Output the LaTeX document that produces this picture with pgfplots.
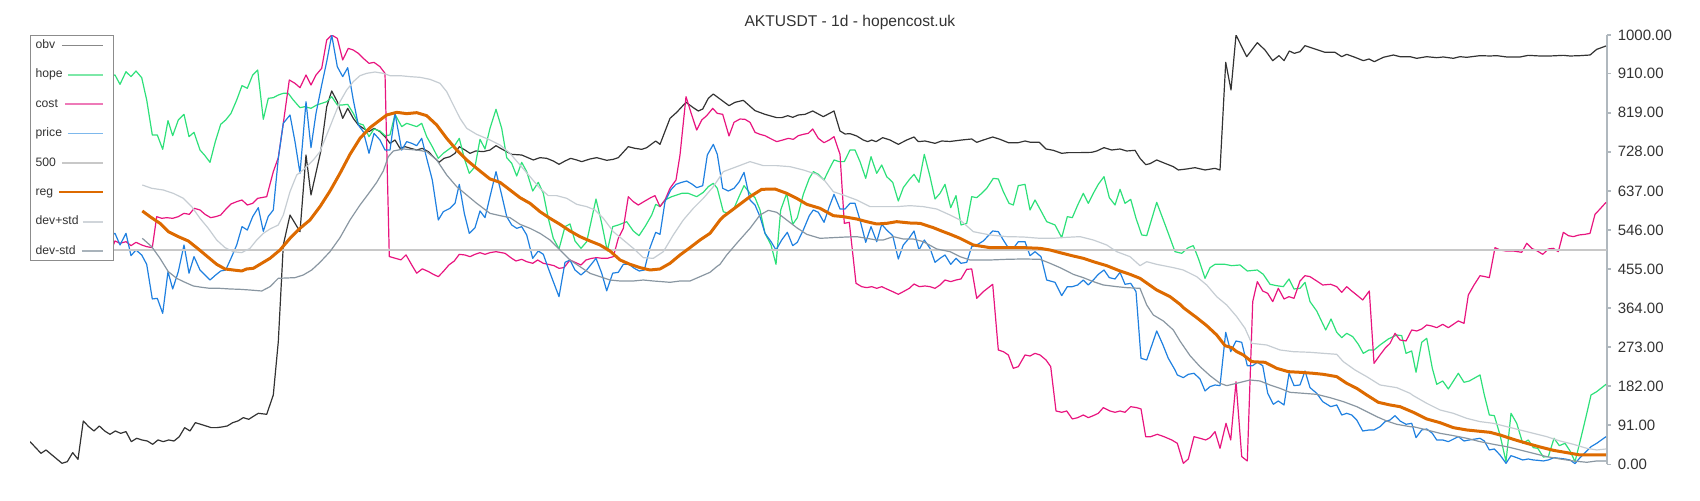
\documentclass[border=0pt]{standalone}
\usepackage{fontspec}
\setmainfont{Liberation Sans}
\usepackage{pgfplots}
\pgfplotsset{compat=1.18}
\definecolor{ctext}{HTML}{333333}
\definecolor{caxis}{HTML}{B0B8BE}
\definecolor{clegend}{HTML}{8C8C8C}
\definecolor{cobv}{HTML}{333333}
\definecolor{chope}{HTML}{2EE07A}
\definecolor{ccost}{HTML}{E8157F}
\definecolor{cprice}{HTML}{1F80E0}
\definecolor{cfive}{HTML}{C8C8C8}
\definecolor{creg}{HTML}{DD6A00}
\definecolor{cdevp}{HTML}{C6CDD3}
\definecolor{cdevm}{HTML}{8996A1}
\definecolor{cobvL}{HTML}{888888}
\definecolor{chopeL}{HTML}{7DE8A8}
\definecolor{ccostL}{HTML}{EE7AB8}
\definecolor{cpriceL}{HTML}{7DB8EC}
\definecolor{cdevpL}{HTML}{D0D5DA}
\definecolor{cdevmL}{HTML}{A9B3BB}
\begin{document}
\begin{tikzpicture}
\path[use as bounding box] (0,0) rectangle (850pt,250pt);
\begin{axis}[
  at={(15pt,17.85pt)}, anchor=south west,
  scale only axis, width=788.35pt, height=214.65pt,
  xmin=30, xmax=1606.7, ymin=0, ymax=1000,
  axis x line=none, axis y line*=right,
  ytick={0,91,182,273,364,455,546,637,728,819,910,1000},
  scaled y ticks=false,
  yticklabel style={font=\fontsize{7.5}{9}\selectfont, text=ctext,
    /pgf/number format/fixed, /pgf/number format/fixed zerofill,
    /pgf/number format/precision=2, /pgf/number format/1000 sep={},
    /pgf/number format/assume math mode=true},
  tick align=outside, major tick length=2pt,
  y axis line style={draw=caxis, line width=0.8pt},
  ytick style={draw=caxis, line width=0.8pt},
  title={AKTUSDT - 1d - hopencost.uk},
  title style={at={(0.52,1)}, anchor=base, yshift=-1.5pt, font=\fontsize{7.8}{9}\selectfont, text=ctext},
  legend style={at={(0,1)}, anchor=north west, draw=clegend, line width=0.6pt, fill=white,
    font=\fontsize{6.1}{7}\selectfont, text=ctext, inner xsep=1pt, inner ysep=1pt,
    row sep=7pt, column sep=1pt,
    nodes={inner xsep=1.5pt, inner ysep=1pt, text height=4.4pt, text depth=1.3pt}},
  legend plot pos=right,
  legend cell align=left,
  every axis plot/.append style={line join=round, mark=none},
]
\addlegendimage{legend image code/.code={\draw[overlay,cobvL,line width=0.8pt] (-11.3pt,0pt) -- (0pt,0pt); \draw[cobvL,line width=0.8pt] (0pt,0pt) -- (9pt,0pt); \path (13pt,0pt);}}\addlegendentry{obv}
\addlegendimage{legend image code/.code={\draw[overlay,chopeL,line width=0.8pt] (-8.3pt,0pt) -- (0pt,0pt); \draw[chopeL,line width=0.8pt] (0pt,0pt) -- (9pt,0pt); \path (13pt,0pt);}}\addlegendentry{hope}
\addlegendimage{legend image code/.code={\draw[overlay,ccostL,line width=0.8pt] (-9.7pt,0pt) -- (0pt,0pt); \draw[ccostL,line width=0.8pt] (0pt,0pt) -- (9pt,0pt); \path (13pt,0pt);}}\addlegendentry{cost}
\addlegendimage{legend image code/.code={\draw[overlay,cpriceL,line width=0.8pt] (-8.3pt,0pt) -- (0pt,0pt); \draw[cpriceL,line width=0.8pt] (0pt,0pt) -- (9pt,0pt); \path (13pt,0pt);}}\addlegendentry{price}
\addlegendimage{legend image code/.code={\draw[overlay,cfive,line width=0.8pt] (-11.3pt,0pt) -- (0pt,0pt); \draw[cfive,line width=0.8pt] (0pt,0pt) -- (9pt,0pt); \path (13pt,0pt);}}\addlegendentry{500}
\addlegendimage{legend image code/.code={\draw[overlay,creg,line width=0.9pt] (-12.7pt,0pt) -- (0pt,0pt); \draw[creg,line width=0.9pt] (0pt,0pt) -- (9pt,0pt); \path (13pt,0pt);}}\addlegendentry{reg}
\addlegendimage{legend image code/.code={\draw[overlay,cdevpL,line width=0.8pt] (-0.8pt,0pt) -- (0pt,0pt); \draw[cdevpL,line width=0.8pt] (0pt,0pt) -- (9pt,0pt); \path (13pt,0pt);}}\addlegendentry{dev+std}
\addlegendimage{legend image code/.code={\draw[overlay,cdevmL,line width=0.8pt] (-1.3pt,0pt) -- (0pt,0pt); \draw[cdevmL,line width=0.8pt] (0pt,0pt) -- (9pt,0pt); \path (13pt,0pt);}}\addlegendentry{dev-std}

% obv
\addplot[cobv, line width=0.6pt, forget plot] coordinates {
(30,52.8) (41,25.6) (46,33.4) (62,2.3) (67.3,6.2) (72.7,27.2) (78,11.6) (83.3,100.9) (88.7,87.7) (94,77.6) (99.3,89.3) (104.7,77.6) (110,69.9) (115.3,77.6) (120.7,72.2) (126,76.1) (131.3,52.8) (136.7,60.6) (142,56.7) (147.3,54.3) (152.7,46.6) (158,56.7) (163.3,52.8) (168.7,56.7) (174,54.3) (179.3,64.4) (184.7,85.4) (190,77.6) (195.3,97) (200.7,93.2) (206,89.3) (211.3,85.4) (216.7,85.4) (222,87) (227.3,89.3) (232.7,97) (238,101) (243.3,108.7) (248.7,104.8) (254,112.6) (258.3,118.8) (266.7,116.5) (273.3,161.5) (278.3,285.7) (283.3,510.9) (290,580.7) (300,541.9) (306,720.5) (311,627.3) (320.7,728.3) (326.7,833.1) (331.7,869.6) (337.3,844.7) (342.7,805.9) (347.7,829.2) (353.3,805.9) (358.3,790.4) (363.3,782.6) (369,774.8) (374,782.6) (380,774.8) (385,763.2) (390,747.7) (395,755.4) (400,736) (405,739.9) (410.7,736) (416.7,732.1) (422.3,736) (428.3,728.3) (433.3,716.6) (439,703.4) (444,712.7) (450,716.6) (455,724.4) (459.3,739.9) (465,732.1) (470,724.4) (475.7,729.8) (483.3,728.3) (490,732.1) (496,742.2) (501.7,734.5) (511.7,722) (521.7,720.5) (533.3,708.9) (540,714.3) (546.7,712.7) (553.3,706.5) (559,698.8) (565,706.5) (570.7,712.7) (576.7,708.9) (581.7,705) (590,711.2) (596.7,714.3) (606.7,708.1) (613.3,710.4) (618.3,714.3) (628.3,739.9) (635,736) (641.7,733.7) (646.7,737.6) (655.7,753.1) (660,745.3) (670,805.9) (676.7,819.9) (686,843.2) (693.3,830.7) (698.3,823) (702.7,827.6) (708.3,852.5) (713.3,862.6) (720,850.9) (729,835.4) (735,843.2) (743.3,847.8) (755,823.8) (765,815.2) (776.7,807.5) (781.7,807.5) (787.7,812.1) (792.7,808.2) (798.3,813.7) (805,815.2) (812.7,823) (823.3,809.8) (834,823) (840,776.4) (845,769.4) (850,770.2) (856.7,764.8) (863.3,755.4) (867.7,751.6) (871.7,755.4) (876,751.6) (882.7,760.9) (890,755.4) (898.3,745.3) (906.7,755.4) (914,762.4) (918.3,751.6) (925,753.1) (935,747.7) (941.7,753.1) (950,752) (961.7,755.4) (971.7,757.8) (976.7,750) (983.3,755.4) (992.7,762.4) (1000,757) (1008.3,749.2) (1018.3,749.2) (1025,753.1) (1030.7,750) (1039.3,750) (1046,734.5) (1053.3,731.4) (1061.7,724.4) (1068.3,726) (1080,726) (1091.7,726.7) (1096.7,729.8) (1104,737.6) (1111.7,732.1) (1120,734.5) (1126.7,729.8) (1135,731.4) (1140,712.7) (1145.7,698) (1150,700.3) (1156.7,708.9) (1163.3,702.6) (1173.3,693.3) (1178.3,685.6) (1186.7,687.9) (1195,691) (1205,685.6) (1215,689.4) (1220,685.6) (1225.7,936.3) (1231,871.9) (1236,1000) (1241.7,972.8) (1246.7,949.5) (1257.3,982.1) (1265,965) (1272.7,940.2) (1279,951.9) (1284,940.2) (1289.3,962.7) (1294.3,957.3) (1300,961.2) (1305,975.2) (1315,967.4) (1325,959.6) (1335,959.6) (1341.7,949.5) (1346.7,955) (1355,948) (1363.3,940.2) (1369,944.1) (1374.3,937.9) (1383.3,948) (1393.3,953.4) (1400,949.5) (1410,949.5) (1416.7,945.7) (1426.7,949.5) (1436.7,947.2) (1443.3,948.8) (1453.3,945.7) (1460,949.5) (1466.7,948) (1480,951.9) (1490,951.1) (1496.7,951.9) (1506.7,948.8) (1520,948.8) (1528.3,952.6) (1540,951.1) (1550,951.1) (1563.3,952.6) (1570,951.1) (1580,951.9) (1590,953.4) (1596.7,966.6) (1606,974.4)
};

% hope
\addplot[chope, line width=0.6pt, forget plot] coordinates {
(100,905.3) (110.7,905.3) (115,906.8) (120,885.1) (126,914.6) (131,903) (136,916.1) (141.7,900.6) (146.7,848.6) (152.3,767.1) (157.3,767.1) (162.7,733.7) (168,800.5) (172.7,765.5) (178.3,802) (184,815.2) (189,763.2) (194,773.3) (200,732.1) (205,718.9) (210,703.4) (215.3,751.6) (220.7,792) (225.7,802) (231,817.5) (236.7,848.6) (242,882) (247.3,875.8) (252.7,906.8) (257.7,918.5) (263.3,803.6) (268.3,852.5) (273.3,854) (278.3,860.2) (283.3,864.1) (288.3,864.1) (293.3,848.6) (300,830.7) (305,833.1) (311,829.2) (316.7,837) (321.7,840.8) (326.7,844.7) (331.7,856.4) (337.3,837) (342.3,837) (347.7,838.5) (353.3,817.5) (358.3,794.3) (363.3,790.4) (369,763.2) (374,781.1) (380,776.4) (385,765.5) (390,767.1) (395,815.2) (401.7,786.5) (406.7,794.3) (411.7,790.4) (416.7,786.5) (421.7,794.3) (426.7,763.2) (432.3,739.9) (438.3,712.7) (443.3,724.4) (450,736) (455,743.8) (459.3,759.3) (464.3,712.7) (469.3,677.8) (475,693.3) (480,757) (485,734.5) (490,782.6) (496,826.9) (501.7,782.6) (506.7,714.3) (511.7,701.1) (516.7,671.6) (521.7,703.4) (526.7,681.7) (532.7,636.6) (538.3,656.8) (543.3,631.2) (548.3,573) (553.3,526.4) (559,501.6) (565,553.6) (570,559.8) (575,520.2) (581,503.1) (586.7,518.6) (596,618) (601.7,561.3) (607.3,496.9) (612.7,553.6) (618.3,557.5) (626.7,565.2) (633.3,543.5) (639,532.6) (645,553.6) (651.7,580.7) (655.7,605.6) (660,600.2) (665,615.7) (671.7,623.4) (681.7,631.2) (688.3,631.2) (696.7,623.4) (703.3,633.5) (708.3,646.7) (713.3,654.5) (717.3,642.9) (723.3,588.5) (728.3,584.6) (733.3,592.4) (738.3,619.6) (744,649.1) (750,631.2) (755,621.1) (760,592.4) (765,538) (771,510.9) (776,465.8) (780.7,592.4) (786.7,631.2) (792.7,559) (797.3,574.5) (803.3,628.9) (809.3,666.1) (813.3,681.7) (818.3,675.5) (824,662.3) (829.3,687.9) (834,708.9) (839.3,705) (844.3,705) (850,732.1) (855,732.1) (860,705) (865.7,666.1) (871,716.6) (876.7,677.8) (881.7,697.2) (886.7,670) (892.7,656.8) (898.3,613.4) (903.3,644.4) (909,662.3) (914,675.5) (919,656.8) (924.3,722) (930,670) (935,618) (940,631.2) (945,652.2) (950.7,597.8) (956,625.8) (961,557.5) (966.7,561.3) (971.7,623.4) (976.7,621.1) (981.7,631.2) (986.7,642.9) (993.3,666.1) (998.3,664.6) (1003.3,635.1) (1009,607.9) (1013.3,604) (1018.3,649.1) (1025,652.2) (1030,592.4) (1035,615.7) (1041,590.1) (1046.7,565.2) (1055,557.5) (1061.7,528) (1067.3,576.9) (1072.3,574.5) (1077.7,604) (1083.3,631.2) (1088.3,607.9) (1093.3,631.2) (1098.3,652.2) (1104,670) (1109.3,621.1) (1115,604) (1120,640.5) (1125,607.9) (1130.7,617.2) (1136,573) (1141.7,534.2) (1146.7,532.6) (1156.7,610.2) (1162.7,573) (1168.3,538) (1175,495.3) (1181.7,491.5) (1188.3,504.7) (1193.3,509.3) (1198.3,479.8) (1205,433.2) (1210,458.1) (1215,465.8) (1225,465.8) (1231.7,462.7) (1240,464.3) (1247.3,450.3) (1257.3,452.6) (1263.3,442.5) (1270,419.3) (1276.7,416.1) (1283.3,413.8) (1289,431.7) (1294,408.4) (1300,409.9) (1305,423.9) (1310,378.9) (1316.7,357.1) (1325.7,312.9) (1331,338.5) (1336.7,307.5) (1341.7,295) (1346.7,305.1) (1352.7,297.4) (1358.3,279.5) (1363.3,258.5) (1369,266.3) (1374,266.3) (1380,277.9) (1388.3,291.9) (1396.7,301.2) (1401.7,299.7) (1406,258.5) (1411.7,264) (1416,214.3) (1421.7,284.2) (1426.7,293.5) (1432.3,223.6) (1436.7,186.3) (1442.7,194.1) (1448.3,175.5) (1458.3,212) (1464,191) (1469.3,194.1) (1480,208.1) (1484.3,161.5) (1489.3,114.9) (1494.3,113.4) (1500,68.3) (1506,6.2) (1511,118.8) (1516.7,95.5) (1522.7,48.9) (1528.3,56.7) (1533.3,38.8) (1537.7,37.3) (1543.3,17.1) (1548.3,17.9) (1554,60.6) (1559.3,43.5) (1565,48.9) (1570,31.1) (1575,6.2) (1580,52.8) (1586,111) (1591,161.5) (1596.7,169.3) (1606,186.3)
};

% cost
\addplot[ccost, line width=0.6pt, forget plot] coordinates {
(100,495.3) (110.7,495.3) (115,520.2) (120,514.8) (126,518.6) (131,509.3) (136,517.1) (141.7,510.9) (146.7,507) (152.3,504.7) (156.7,576.9) (161.7,573) (166.7,574.5) (172.7,573) (178.3,576.9) (184,584.6) (189.3,582.3) (194.3,596.3) (200,592.4) (205,582.3) (210.7,574.5) (215.7,576.9) (220.7,580.7) (225.7,593.9) (231,606.4) (236.7,611.8) (242,615.7) (247.3,604) (252.7,607.9) (257.7,619.6) (266.7,623.4) (273.3,681.7) (278.3,714.3) (283.3,794.3) (289.3,895.2) (295,887.4) (300,877.3) (306,906.8) (311,883.5) (316,906.8) (321.7,922.4) (326.7,988.4) (331.7,1000) (337.3,992.2) (342.7,941.8) (348.3,968.9) (353.3,965) (358.3,957.3) (363.3,945.7) (369,934) (374,936.3) (380,926.2) (385,910.7) (389.3,484) (395,480.1) (401,476.2) (406,487.9) (411.7,464.6) (416.7,445.2) (422.3,455.3) (428.3,449.1) (433.3,442.5) (438.3,437.1) (443.3,449.1) (449,464.6) (454.3,473.6) (459.3,489.1) (465,487.6) (470,483.7) (475,489.1) (480,493) (485,489.1) (490,493) (496,495.3) (505,491.5) (511.7,479.8) (516,473.6) (521.7,477.5) (526.7,472) (532.7,468.2) (537.7,475.9) (543.3,468.2) (548.3,465.8) (554,462.7) (559,456.5) (564,458.1) (570,475.9) (575,470.5) (581,464.3) (586,475.9) (591.7,479.8) (596.7,481.4) (602.3,479.8) (607.3,479.8) (613.3,483.7) (618.3,526.4) (623.3,549.7) (628.3,623.4) (633.3,611.8) (638.3,604) (645,613.4) (650.7,621.1) (655,625.8) (660,600.2) (665,615.7) (670,642.9) (676,662.3) (680,720.5) (686,856.4) (691.7,813.7) (696.7,778.7) (701.7,802) (706.7,812.1) (712.7,829.2) (717.3,817.5) (722.7,815.2) (729,764.8) (734,796.6) (740,804.3) (745,803.6) (750,796.6) (755,773.3) (760,768.6) (765,765.5) (770,759.3) (776.7,751.6) (782.7,755.4) (788.3,759.3) (793.3,757) (798.3,765.5) (803.3,768.6) (808.3,771) (812.7,781.1) (818.3,759.3) (824,749.2) (829.3,755.4) (834,763.2) (840,722) (844.3,561.3) (849.3,563.7) (856,421.6) (861.7,413.8) (866.7,411.5) (871.7,413.8) (876.7,409.9) (881.7,413.8) (886.7,408.4) (892.7,402.2) (898.3,396) (903.3,402.2) (909.3,409.9) (914,420) (919.3,413.8) (925,415.4) (930,413.8) (935,409.9) (940,417.7) (945,429.3) (950.7,425.5) (956,429.3) (961,431.7) (966.7,454.2) (971.7,455) (976.7,386.6) (983.3,402.2) (992.7,419.3) (998.3,266.3) (1003.3,262.4) (1008.3,254.7) (1013.3,223.6) (1018.3,227.5) (1025,254.7) (1030,252.3) (1035,258.5) (1040,254.7) (1046,243) (1050.7,227.5) (1056,124.2) (1061.7,121.1) (1066.7,124.2) (1072.3,105.6) (1077.7,108.7) (1083.3,114.9) (1088.3,108.7) (1093.3,113.4) (1098.3,118.8) (1103.3,132) (1110,124.2) (1115,121.1) (1120,124.2) (1125,121.1) (1130.7,134.3) (1136.7,132) (1141,128.9) (1145.7,64.4) (1150.7,64.4) (1157.3,69.9) (1164,64.4) (1171.7,56.7) (1177.3,48.9) (1183.3,2.3) (1188.3,12.4) (1194,64.4) (1200,60.6) (1205.7,56.7) (1210,62.1) (1215,76.1) (1220,37.3) (1226,95.5) (1230.7,56.7) (1236,192.5) (1241.7,17.9) (1247.3,7.8) (1252.7,378.9) (1257.3,425.5) (1262.7,403.7) (1267.7,398.3) (1272.7,378.9) (1278.3,409.9) (1284,385.1) (1289,390.5) (1294,386.6) (1300,427) (1305,439.4) (1310,437.1) (1316.7,427) (1322.7,417.7) (1330.7,419.3) (1336.7,413.8) (1341.7,400.6) (1346.7,413.8) (1351.7,403.7) (1356.7,394.4) (1362.7,382.8) (1369.3,403.7) (1374,235.2) (1380,254.7) (1385,270.2) (1390,281.8) (1395,305.1) (1400,289.6) (1406,287.3) (1411.7,312.9) (1416.7,310.6) (1421.7,315.2) (1426.7,324.5) (1431.7,322.2) (1436.7,318.3) (1442.7,326.1) (1448.3,318.3) (1453.3,326.1) (1458.3,333.9) (1464,328.4) (1468.3,394.4) (1474,417.7) (1480,439.4) (1485,437.1) (1489.3,434.8) (1495,504.7) (1500,499.2) (1506,496.9) (1513.3,496.9) (1521.7,493.8) (1526.7,514.8) (1531.7,503.1) (1537.3,496.9) (1542.7,489.1) (1548.3,501.6) (1553.3,503.1) (1558.3,495.3) (1563.3,540.4) (1568.3,532.6) (1573.3,530.3) (1579,534.2) (1585,535.7) (1590,538) (1595,582.3) (1600,594.7) (1606,610.2)
};

% price
\addplot[cprice, line width=0.6pt, forget plot] coordinates {
(100,534.2) (110.7,534.2) (115,538) (120,510.9) (126,538) (131,486) (136,499.2) (141.7,487.6) (146.7,465.8) (152.3,385.1) (157.3,386.6) (162.7,351.7) (168,448.8) (172.7,408.4) (178.3,448.8) (184,510.9) (189,445.2) (194,483.7) (200,452.6) (205,441) (210,429.3) (215.7,441) (220.7,450.3) (225.7,452.6) (231,479.8) (236.7,510.9) (242,553.6) (247.3,545.8) (252.7,576.9) (258.3,597.8) (263.3,542.7) (268.3,577.6) (273.3,592.4) (278.3,712.7) (283.3,794.3) (290,813.7) (295,751.6) (300,677.8) (306,844.7) (311,737.6) (316,817.5) (321.7,883.5) (326.7,937.9) (331.7,1000) (337.3,926.2) (342.7,903) (347.7,923.9) (353.3,848.6) (358.3,790.4) (363.3,774.8) (369,724.4) (374,771) (380,755.4) (385,732.1) (390,732.1) (395,817.5) (401.7,732.1) (406.7,751.6) (411.7,747.7) (416.7,742.2) (421.7,759.3) (426.7,712.7) (432.3,662.3) (438.3,569.1) (443.3,588.5) (450,596.3) (455,607.9) (459.3,652.2) (464.3,584.6) (469.3,538) (475,551.2) (480,590.1) (485,574.5) (490,623.4) (496,681.7) (501.7,627.3) (506.7,576.9) (511.7,557.5) (516.7,549.7) (521.7,553.6) (526.7,534.2) (532.7,479.8) (538.3,496.9) (543.3,489.1) (548.3,456.5) (553.3,425.5) (559,390.5) (565,470.5) (570,475.9) (575,452.6) (581,441) (586.7,452.6) (596,479.8) (601.7,445.2) (606.7,404.1) (612.7,445.2) (618.3,447.2) (623.3,465.8) (629,465.8) (634.3,456.5) (639.3,450.3) (644.3,452.6) (650,504.7) (655.7,540.4) (660,535.7) (665,611.8) (670.7,638.9) (676,652.2) (681.7,656.8) (686.7,659.9) (692.3,652.2) (696.7,644.4) (702.7,649.1) (707.3,720.5) (713.3,745.3) (717.3,722) (722.7,642.9) (728.3,636.6) (734,642.9) (739.3,658.4) (744,680.1) (750,615.7) (755,604) (760,576.9) (765,538) (771,518.6) (776,499.2) (781.7,522.5) (787.3,540.4) (792.7,509.3) (797.3,517.1) (803.3,545.8) (809.3,579.2) (813.3,592.4) (818.3,587) (824,563.7) (829.3,600.2) (834,628.9) (840,594.7) (845,594.7) (850,607.9) (855,607.9) (860,569.1) (865.7,517.1) (871,553.6) (876.7,518.6) (881.7,559) (886.7,545.8) (892.7,532.6) (898.3,478.3) (903.3,510.9) (909,526.4) (914,543.5) (919,499.2) (924.3,522.5) (930,503.1) (935,470.5) (940,479.8) (945,487.6) (950.7,465.8) (956,479.8) (961,468.2) (966.7,470.5) (971.7,507) (976.7,510.9) (983.3,520.2) (992.7,543.5) (998.3,541.9) (1003.3,522.5) (1009,501.6) (1013.3,503.1) (1018.3,518.6) (1025,518.6) (1030,486) (1035,495.3) (1041,483.7) (1046.7,429.3) (1055,423.9) (1061.7,392.9) (1067.3,413.8) (1072.3,413.8) (1077.7,417.7) (1083.3,429.3) (1088.3,417.7) (1093.3,429.3) (1098.3,442.5) (1104,452.6) (1109.3,434.8) (1115,431.7) (1120,447.2) (1125,419.3) (1130.7,421.6) (1136,402.2) (1141,246.9) (1146.7,243) (1156.7,310.6) (1162.7,279.5) (1168.3,246.9) (1175,219.7) (1177.3,208.1) (1183.3,201.9) (1188.3,209.6) (1194,212) (1200,198.8) (1205,170.8) (1210,180.9) (1215,184.8) (1220,183.2) (1225.7,307.5) (1230.7,262.4) (1236,287.3) (1241.7,284.2) (1247.3,229.8) (1252.7,229.8) (1257.3,237.6) (1262.7,229.8) (1267.7,165.4) (1273.3,139.8) (1278.3,147.5) (1284,138.2) (1289,212) (1294,183.2) (1300,184.8) (1305,217.4) (1310,178.6) (1316.7,165.4) (1322.7,146) (1330.7,134.3) (1336.7,138.2) (1341.7,114.9) (1346.7,118.8) (1351.7,114.9) (1356.7,103.3) (1362.7,77.6) (1369.3,80) (1374,80) (1380,87.7) (1385,99.4) (1390,103.3) (1395,113.4) (1400,101) (1406,93.2) (1411.7,95.5) (1416,62.1) (1421.7,80) (1426.7,82.3) (1432.3,72.2) (1436.7,56.7) (1442.7,56.7) (1448.3,52.8) (1458.3,64.4) (1464,54.3) (1469.3,56.7) (1480,60.6) (1484.3,54.3) (1489.3,33.4) (1494.3,35.7) (1500,21.7) (1506,2.3) (1511,20.2) (1516.7,15.5) (1522.7,10.1) (1528.3,12.4) (1533.3,10.1) (1537.7,9.3) (1543.3,7.8) (1548.3,10.1) (1554,15.5) (1559.3,14) (1565,12.4) (1570,10.1) (1575,1.6) (1580,15.5) (1586,29.5) (1591,41.1) (1596.7,48.9) (1606,64.4)
};

% 500
\addplot[cfive, line width=1pt, forget plot] coordinates {(30,500) (1606.7,500)};

% reg
\addplot[creg, line width=1.5pt, forget plot] coordinates {
(142.3,590.1) (150,576.9) (160,561.3) (168.3,541.9) (178.3,530.3) (188.3,520.2) (198.3,501.6) (206.7,485.2) (216.7,465.8) (225,455) (233.3,452.6) (241.7,450.3) (246.7,455) (253.3,456.5) (260,465.8) (270,479.8) (280,499.2) (290,526.4) (300,549.7) (310,569.1) (320,600.2) (330,636.6) (340,677.8) (350,722) (360,759.3) (370,784.2) (380,802) (386.7,813.7) (396.7,819.9) (406.7,816.8) (416.7,819.1) (426.7,812.1) (436.7,790.4) (446.7,759.3) (456.7,732.1) (466.7,708.9) (476.7,689.4) (490,664.6) (500,656.8) (510,639) (520,621.1) (530,607.9) (540,588.5) (550,573) (560,559) (570,543.5) (580,530.3) (590,520.2) (600,510.9) (610,496.9) (620,476) (630,465.8) (640,458.1) (650,452.6) (660,455) (670,468.2) (680,487.6) (690,504.7) (700,522.5) (710,538) (720,569.1) (723.3,576.9) (736.7,600.2) (750,623.4) (761.7,640.5) (775,641.3) (786.7,631.2) (796.7,619.6) (806.7,605.6) (820,596.3) (833.3,579.2) (843.3,576.9) (856.7,571.4) (866.7,565.2) (876.7,559.8) (886.7,561.3) (896.7,565.2) (910,562.1) (920,561.3) (933.3,551.2) (943.3,541.9) (950,536) (960,526.4) (973.3,510.9) (990,504.7) (1006.7,504.7) (1023.3,504.7) (1040,503.1) (1050,499.2) (1060,493) (1073.3,485.2) (1083.3,479.8) (1093.3,472) (1106.7,462.7) (1120,450.3) (1130,442.5) (1140,433.2) (1156.7,406) (1170,390.5) (1180,372.7) (1183.3,364.9) (1196.7,341.6) (1206.7,323) (1216.7,301.2) (1225,276.4) (1231.7,271.7) (1236.7,262.4) (1243.3,254.7) (1251.7,239.1) (1265,237.6) (1276.7,223.6) (1288.3,215.8) (1300,214.3) (1313.3,212) (1323.3,209.6) (1336.7,204.2) (1346.7,188.7) (1356.7,177) (1366.7,161.5) (1378.3,144.4) (1390,138.2) (1400,134.3) (1413.3,121.1) (1426.7,105.6) (1440,97) (1453.3,85.4) (1466.7,80) (1476.7,77.6) (1490,74.5) (1500,68.3) (1513.3,58.2) (1526.7,48.9) (1540,40.4) (1553.3,32.6) (1566.7,27.2) (1580,21.7) (1593.3,21.7) (1606,21.7)
};

% dev+std
\addplot[cdevp, line width=0.6pt, forget plot] coordinates {
(142.3,650.6) (151.7,642.9) (163.3,639) (173.3,631.2) (183.3,619.6) (191.7,600.2) (200,573) (208.3,549.7) (216.7,522.5) (225,504.7) (233.3,495.3) (241.7,493) (250,503.1) (256.7,522.5) (263.3,538) (270,548.1) (278.3,557.5) (283.3,580.7) (290,635.1) (296.7,673.9) (305,689.4) (313.3,708.9) (320,728.3) (326.7,767.1) (333.3,805.9) (340,844.7) (346.7,871.9) (353.3,891.3) (360,905.3) (366.7,910.7) (375,913.8) (383.3,910.7) (390,905.3) (400,905.3) (410,903) (420,901.4) (430,896.7) (440,887.4) (446.7,868) (453.3,836.9) (460,805.9) (466.7,782.6) (476.7,768.6) (490,755.4) (500,743.8) (510,724.4) (520,697.2) (530,670) (540,642.9) (548.3,625.8) (556.7,625.8) (566.7,619.6) (576.7,605.6) (586.7,600.2) (595,592.4) (603.3,573) (613.3,541.9) (623.3,522.5) (633.3,503.1) (643.3,481.4) (653.3,479.8) (663.3,495.3) (673.3,534.2) (683.3,569.1) (693.3,596.3) (703.3,619.6) (713.3,646.7) (720,670) (723.3,681.7) (736.7,693.3) (750,705) (763.3,695.7) (776.7,695.7) (790,693.3) (803.3,685.6) (816.7,675.5) (825,659.9) (833.3,635.1) (843.3,627.3) (856.7,615.7) (870,600.2) (883.3,600.2) (896.7,600.2) (910,602.5) (923.3,600.2) (936.7,594.7) (950,580.7) (960,569.1) (973.3,541.9) (990,534.2) (1006.7,530.3) (1023.3,529.5) (1040,526.4) (1053.3,526.4) (1066.7,528.7) (1080,530.3) (1093.3,522.5) (1106.7,510.9) (1116.7,495.3) (1130,483.7) (1140,462.7) (1146.7,472) (1156.7,465.8) (1173.3,458.1) (1183.3,452.6) (1196.7,437.1) (1206.7,417.7) (1216.7,390.5) (1226.7,371.1) (1236.7,343.9) (1245,316.8) (1251.7,281.8) (1266.7,277.9) (1280,266.3) (1293.3,262.4) (1310,260.9) (1323.3,258.5) (1336.7,256.2) (1343.3,239.1) (1355,219.7) (1366.7,204.2) (1380,184.8) (1396.7,178.6) (1410,165.4) (1413.3,159.9) (1426.7,142.1) (1440,126.6) (1453.3,118.8) (1466.7,107.1) (1480,99.4) (1493.3,95.5) (1506.7,87.7) (1520,80) (1533.3,72.2) (1546.7,64.4) (1560,54.3) (1573.3,46.6) (1586.7,37.3) (1596.7,33.4) (1606,35.7)
};

% dev-std
\addplot[cdevm, line width=0.6pt, forget plot] coordinates {
(142.3,526.4) (151.7,507) (160,479.8) (168.3,448.8) (176.7,433.2) (185,423.9) (193.3,415.4) (201.7,412.3) (210,409.9) (220,409.9) (230,408.4) (240,407.6) (250,406) (261.7,403.7) (270,413.8) (278.3,433.2) (295,434.8) (303.3,441) (311.7,452.6) (320,470.5) (330,495.3) (340,527.9) (350,569.1) (360,604) (370,635.1) (376.7,656.8) (383.3,683.2) (388.3,716.6) (393.3,729.8) (403.3,734.5) (416.7,732.1) (426.7,728.3) (436.7,708.9) (446.7,673.9) (456.7,646.7) (466.7,627.3) (476.7,607.9) (490,584.6) (500,579.2) (510,574.5) (520,559) (530,549.7) (540,538) (550,522.5) (560,499.2) (570,476) (580,460.4) (590,444.9) (600,437.1) (610,429.3) (620,427) (633.3,427) (643.3,429.3) (653.3,427) (661.7,425.5) (670,423.9) (680,427) (690,427) (700,437.1) (710,447.2) (716.7,460.4) (720,465.8) (726.7,487.6) (736.7,514.8) (750,549.7) (760,580.7) (768.3,591.6) (776.7,587) (786.7,569.1) (796.7,551.2) (806.7,535.7) (820,526.4) (833.3,528) (846.7,529.5) (856.7,530.3) (866.7,526.4) (876.7,522.5) (883.3,522.5) (893.3,530.3) (903.3,524.8) (913.3,524.8) (923.3,518.6) (936.7,501.6) (950,495.3) (960,483.7) (970,475.9) (990,475.9) (1006.7,477.5) (1023.3,478.3) (1040,477.5) (1050,468.2) (1060,458.1) (1073.3,442.5) (1083.3,434.8) (1093.3,425.5) (1103.3,417.7) (1116.7,413.8) (1126.7,411.5) (1140,409.9) (1146.7,371.1) (1153.3,347.8) (1163.3,333.9) (1173.3,312.9) (1180,287) (1190,253.1) (1200,227.5) (1210,206.5) (1220,188.7) (1226.7,183.2) (1236.7,188.7) (1250,196.4) (1260,194.1) (1270,184.8) (1280,177) (1290,167.7) (1303.3,165.4) (1316.7,163) (1330,155.3) (1343.3,146) (1356.7,134.3) (1366.7,122.7) (1376.7,111) (1386.7,100.9) (1396.7,93.2) (1410,87.7) (1413.3,87.7) (1426.7,80) (1440,72.2) (1453.3,66.8) (1466.7,60.6) (1480,52.8) (1493.3,46.6) (1506.7,41.1) (1520,33.4) (1533.3,25.6) (1546.7,17.9) (1560,12.4) (1573.3,7.8) (1586.7,4.7) (1596.7,7.8) (1606,7.8)
};
\end{axis}
\end{tikzpicture}
\end{document}
